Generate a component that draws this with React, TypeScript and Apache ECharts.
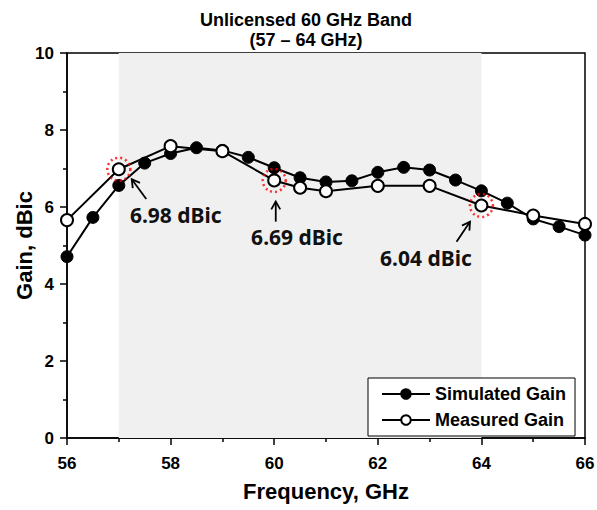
import React, { useEffect, useRef } from "react";
import * as echarts from "echarts";

const simFreq = [56, 56.5, 57, 57.5, 58, 58.5, 59, 59.5, 60, 60.5, 61, 61.5, 62, 62.5, 63, 63.5, 64, 64.5, 65, 65.5, 66];
const simGain = [4.71, 5.73, 6.56, 7.14, 7.39, 7.54, 7.47, 7.29, 7.02, 6.76, 6.65, 6.68, 6.9, 7.03, 6.96, 6.7, 6.42, 6.1, 5.69, 5.49, 5.27];
const measFreq = [56, 57, 58, 59, 60, 60.5, 61, 62, 63, 64, 65, 66];
const measGain = [5.66, 6.98, 7.58, 7.45, 6.69, 6.5, 6.41, 6.55, 6.55, 6.04, 5.78, 5.56];

const bandStart = 57;
const bandEnd = 64;

const highlightFreq = [57, 60, 64];
const highlightGain = [6.98, 6.69, 6.04];
const highlightText = ["6.98 dBic", "6.69 dBic", "6.04 dBic"];
// label anchor positions (data units)
const labelFreq = [58.1, 60.44, 62.93];
const labelGain = [5.79, 5.22, 4.68];
// arrows: from (x1,y1) to (x2,y2) in data units
const arrowFrom = [[57.53, 6.21], [60.03, 5.62], [63.52, 5.1]];
const arrowTo = [[57.25, 6.72], [60.03, 6.14], [63.78, 5.62]];

const xTicks = { min: 56, max: 66, interval: 2 };
const yTicks = { min: 0, max: 10, interval: 2 };

const FONT = "'Liberation Sans', Arial, sans-serif";

export default function App() {
  const ref = useRef<HTMLDivElement>(null);
  useEffect(() => {
    if (!ref.current) return;
    const chart = echarts.init(ref.current, null, { renderer: "svg" });
    const simData = simFreq.map((f, i) => [f, simGain[i]]);
    const measData = measFreq.map((f, i) => [f, measGain[i]]);
    const circles = highlightFreq.map((f, i) => [f, highlightGain[i]]);
    const labels = labelFreq.map((f, i) => [f, labelGain[i], i]);
    const arrows = arrowFrom.map((a, i) => [a[0], a[1], arrowTo[i][0], arrowTo[i][1]]);

    const axisCommon = {
      axisLine: { show: true, onZero: false, lineStyle: { color: "#000", width: 1.5 } },
      axisTick: { show: true, inside: false, length: 7, lineStyle: { color: "#000", width: 1.5 } },
      minorTick: { show: true, splitNumber: 2, length: 4, lineStyle: { color: "#000", width: 1.5 } },
      splitLine: { show: false },
      minorSplitLine: { show: false },
    };

    chart.setOption({
      animation: false,
      backgroundColor: "#fff",
      title: {
        text: "Unlicensed 60 GHz Band\n(57 – 64 GHz)",
        left: 301,
        textAlign: "center",
        top: 5,
        textStyle: { fontFamily: FONT, fontSize: 18, fontWeight: "bold", color: "#000", lineHeight: 20 },
      },
      grid: {
        left: 67,
        right: 12,
        top: 53,
        bottom: 72,
        show: true,
        borderColor: "#000",
        borderWidth: 1.5,
        backgroundColor: "transparent",
        outerBoundsMode: "none",
        containLabel: false,
      },
      legend: {
        data: ["Simulated Gain", "Measured Gain"],
        orient: "vertical",
        left: 368,
        top: 378,
        itemWidth: 48,
        itemHeight: 12,
        itemGap: 8,
        padding: [7, 9, 7, 13],
        borderColor: "#000",
        borderWidth: 1,
        backgroundColor: "#fff",
        textStyle: { fontFamily: FONT, fontSize: 18, fontWeight: "bold", color: "#000" },
      },
      xAxis: {
        type: "value",
        ...xTicks,
        ...axisCommon,
        name: "Frequency, GHz",
        nameLocation: "middle",
        nameGap: 42,
        nameMoveOverlap: false,
        nameTextStyle: { fontFamily: FONT, fontSize: 22, fontWeight: "bold", color: "#000" },
        axisLabel: { margin: 17, fontFamily: FONT, fontSize: 17, fontWeight: "bold", color: "#000" },
      },
      yAxis: {
        type: "value",
        ...yTicks,
        ...axisCommon,
        name: "Gain, dBic",
        nameLocation: "middle",
        nameGap: 32,
        nameMoveOverlap: false,
        nameTextStyle: { fontFamily: FONT, fontSize: 22, fontWeight: "bold", color: "#000" },
        axisLabel: { margin: 13, fontFamily: FONT, fontSize: 17, fontWeight: "bold", color: "#000" },
      },
      series: [
        {
          name: "Simulated Gain",
          type: "line",
          data: simData,
          symbol: "circle",
          symbolSize: 12,
          showSymbol: true,
          lineStyle: { color: "#000", width: 2 },
          itemStyle: { color: "#000", borderColor: "#000", borderWidth: 1 },
          markArea: {
            silent: true,
            itemStyle: { color: "#f0f0f0" },
            data: [[{ xAxis: bandStart }, { xAxis: bandEnd }]],
          },
          z: 3,
        },
        {
          name: "Measured Gain",
          type: "line",
          data: measData,
          symbol: "circle",
          symbolSize: 12,
          showSymbol: true,
          lineStyle: { color: "#000", width: 2 },
          itemStyle: { color: "#fff", borderColor: "#000", borderWidth: 2 },
          z: 4,
        },
        {
          name: "highlight",
          type: "scatter",
          data: circles,
          symbol: "circle",
          symbolSize: 23,
          itemStyle: { color: "rgba(0,0,0,0)", borderColor: "#ff0000", borderWidth: 2.5, borderType: [2, 3] },
          z: 5,
          silent: true,
        },
        {
          name: "arrows",
          type: "custom",
          data: arrows,
          encode: { x: [0, 2], y: [1, 3] },
          z: 6,
          silent: true,
          renderItem: (params: any, api: any) => {
            const p1 = api.coord([api.value(0), api.value(1)]);
            const p2 = api.coord([api.value(2), api.value(3)]);
            const ang = Math.atan2(p2[1] - p1[1], p2[0] - p1[0]);
            const L = 9;
            const spread = Math.PI / 6;
            const h1 = [p2[0] - L * Math.cos(ang - spread), p2[1] - L * Math.sin(ang - spread)];
            const h2 = [p2[0] - L * Math.cos(ang + spread), p2[1] - L * Math.sin(ang + spread)];
            const style = { stroke: "#000", lineWidth: 1.8, fill: "none" };
            return {
              type: "group",
              children: [
                { type: "line", shape: { x1: p1[0], y1: p1[1], x2: p2[0], y2: p2[1] }, style },
                { type: "polyline", shape: { points: [h1, p2, h2] }, style },
              ],
            };
          },
        },
        {
          name: "labels",
          type: "custom",
          data: labels,
          encode: { x: 0, y: 1 },
          z: 6,
          silent: true,
          renderItem: (params: any, api: any) => {
            const p = api.coord([api.value(0), api.value(1)]);
            return {
              type: "text",
              x: p[0],
              y: p[1],
              style: {
                text: highlightText[api.value(2)],
                fontFamily: "'Noto Sans', sans-serif",
                fontSize: 21,
                fontWeight: "bold",
                fill: "#111",
                align: "center",
                verticalAlign: "middle",
              },
            };
          },
        },
      ],
    });
    return () => chart.dispose();
  }, []);
  return <div ref={ref} style={{ position: "fixed", left: 0, top: 0, width: 597, height: 510 }} />;
}
